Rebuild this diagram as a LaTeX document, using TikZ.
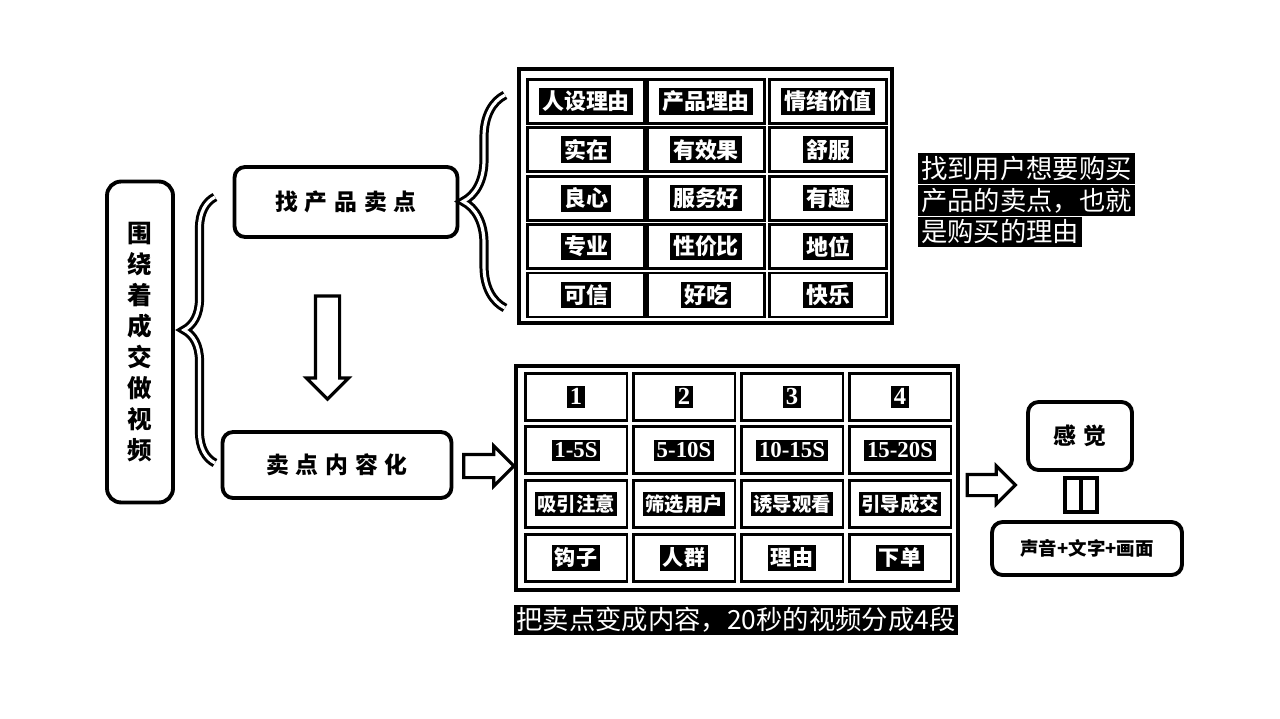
\documentclass[tikz,border=0pt]{standalone}
\usepackage{fontspec}
\setmainfont{Noto Sans CJK SC}
\newfontfamily\spacedfont[LetterSpace=30]{Noto Sans CJK SC}
\newfontfamily\numfont{Liberation Serif}
\newcommand\inkbox[1]{{\setlength\fboxsep{1.6pt}\colorbox{black}{\textcolor{white}{#1}}}}
\usetikzlibrary{shapes.arrows, decorations.pathreplacing, positioning, calc}
\tikzset{
  roundbox/.style={draw, line width=2.2pt, rounded corners=6pt, inner sep=0pt, font=\spacedfont\bfseries\fontsize{13}{15}\selectfont},
  tableframe/.style={draw, line width=2.2pt},
  cellbox/.style={draw, line width=1.7pt, inner sep=0pt},
  reasoncell/.style={cellbox, minimum width=2.34cm, minimum height=0.88cm, font=\bfseries\fontsize{12.5}{13}\selectfont},
  stepcell/.style={cellbox, minimum width=2.04cm, minimum height=0.94cm, font=\bfseries\fontsize{12}{13}\selectfont},
  bracebar/.style={decorate, decoration={brace, amplitude=#1}, draw, line width=1.7pt, double=white, double distance=1.8pt},
  blockarrow/.style n args={3}{single arrow, draw, line width=1.8pt, fill=white, minimum width=0pt,
    minimum height=#1, inner xsep=0pt, inner ysep=#2, single arrow head extend=#3},
  notetext/.style={align=left, inner sep=0pt, font=\fontsize{15}{18}\selectfont},
}

\begin{document}
\begin{tikzpicture}[x=0.02cm, y=-0.02cm]
  \fill[white] (0,0) rectangle (1280,719);
  \useasboundingbox (0,0) rectangle (1280,719);

  % left side
  \node[roundbox, rounded corners=8pt, minimum width=1.32cm, minimum height=6.42cm, align=center,
    font=\bfseries\fontsize{14}{17.6}\selectfont] (goal) at (140,342) {围\\绕\\着\\成\\交\\做\\视\\频};
  \node[roundbox, minimum width=4.46cm, minimum height=1.4cm] (find) at (346,202) {找产品卖点};
  \node[roundbox, minimum width=4.58cm, minimum height=1.32cm] (content) at (337,465) {卖点内容化};
  \draw[bracebar=0.62cm] (215,463) -- (215,197);
  \draw[bracebar=0.84cm] (505,308) -- (505,95);
  \node[blockarrow={2.06cm}{0.21cm}{0.18cm}, rotate=-90] (down) at (327.5,341.5) {};
  \node[blockarrow={1cm}{0.2cm}{0.17cm}] (toSteps) at (483,466) {};

  % reasons table
  \draw[tableframe] (519,69) rectangle (892,323);
  \foreach \a/\b/\c [count=\r] in {人设理由/产品理由/情绪价值, 实在/有效果/舒服, 良心/服务好/有趣, 专业/性价比/地位, 可信/好吃/快乐} {
    \node[reasoncell] (r\r-1) at (586, 53+48.4*\r) {\inkbox{\a}};
    \node[reasoncell] (r\r-2) at (706, 53+48.4*\r) {\inkbox{\b}};
    \node[reasoncell] (r\r-3) at (828, 53+48.4*\r) {\inkbox{\c}};
  }
  \node[notetext, anchor=north west] (reasonNote) at (918,153)
    {\inkbox{找到用户想要购买}\\\inkbox{产品的卖点，也就}\\\inkbox{是购买的理由}};

  % steps table
  \draw[tableframe] (516,366) rectangle (958,590);
  \foreach \n/\t/\p/\w [count=\c] in {1/1-5S/吸引注意/钩子, 2/5-10S/筛选用户/人群, 3/10-15S/诱导观看/理由, 4/15-20S/引导成交/下单} {
    \node[stepcell, font=\numfont\bfseries\fontsize{14}{14}\selectfont] (s1-\c) at (468+108*\c, 396.7) {\inkbox{\n}};
    \node[stepcell, font=\numfont\bfseries\fontsize{13}{13}\selectfont] (s2-\c) at (468+108*\c, 450.4) {\inkbox{\t}};
    \node[stepcell, font=\bfseries\fontsize{11}{12}\selectfont] (s3-\c) at (468+108*\c, 504.1) {\inkbox{\p}};
    \node[stepcell] (s4-\c) at (468+108*\c, 557.8) {\inkbox{\w}};
  }
  \node[notetext] (splitNote) at (736,620) {\inkbox{把卖点变成内容，20秒的视频分成4段}};

  % feeling
  \node[blockarrow={0.96cm}{0.18cm}{0.17cm}] (toFeel) at (986,485) {};
  \node[roundbox, minimum width=2.08cm, minimum height=1.36cm] (feel) at (1080,436) {感觉};
  \node[roundbox, minimum width=3.8cm, minimum height=1.06cm, font=\bfseries\fontsize{10.5}{12}\selectfont] (media) at (1087,548.5) {声音+文字+画面};
  \draw[line width=1.8pt] (1065,478) rectangle (1081,512) (1081,478) rectangle (1097,512);
\end{tikzpicture}
\end{document}
